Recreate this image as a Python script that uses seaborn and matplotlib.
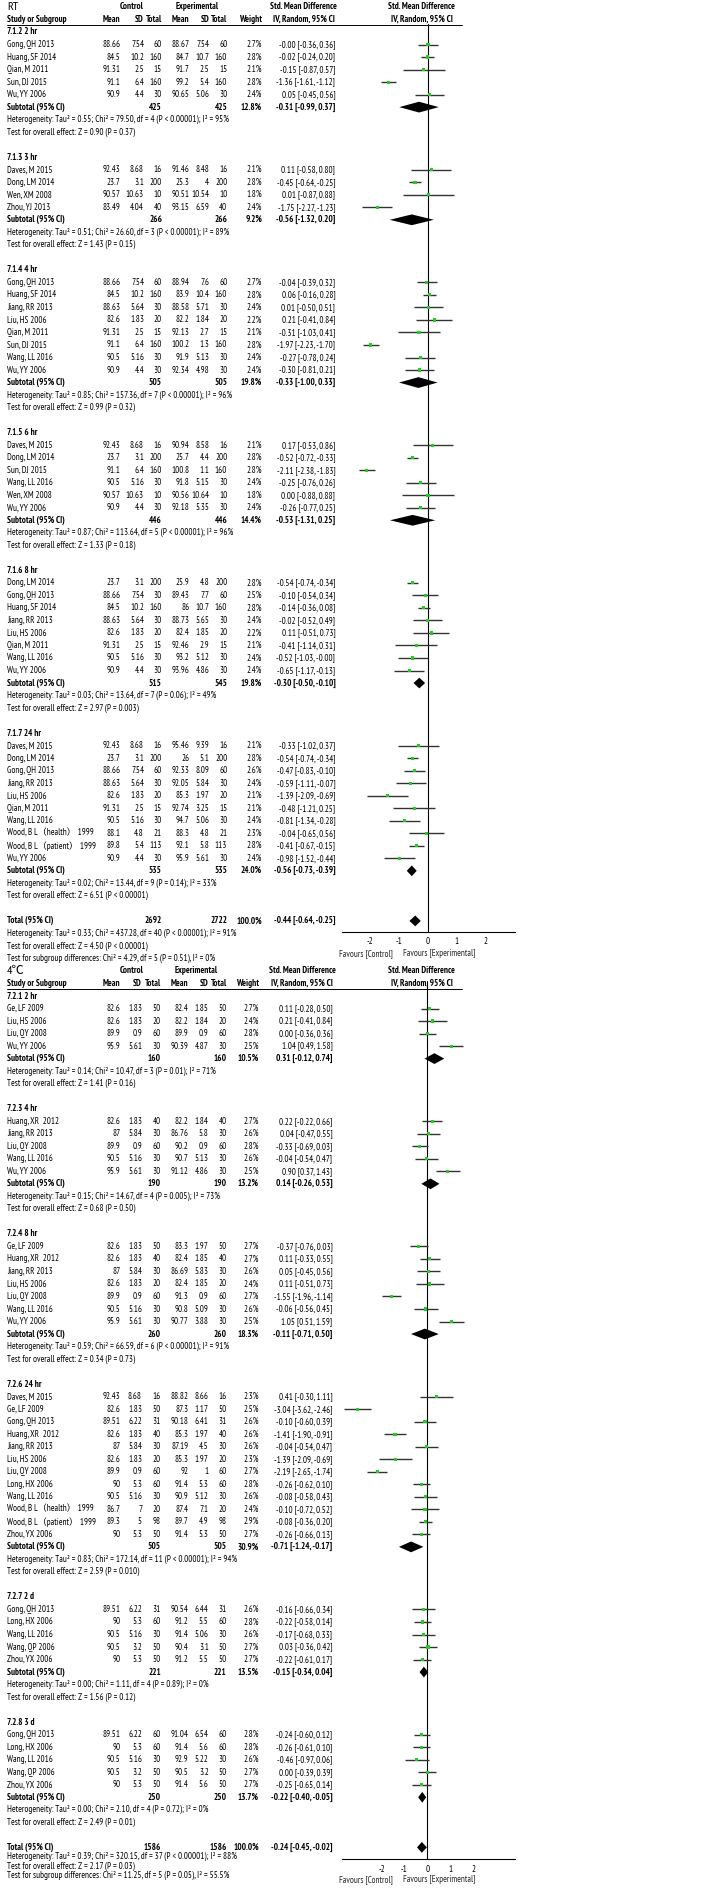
import matplotlib
matplotlib.use("Agg")
import matplotlib.pyplot as plt
import matplotlib.transforms as mtransforms
from matplotlib import font_manager
import seaborn as sns
import pandas as pd

# ---------------- RT section ----------------
rt_groups = ["7.1.2 2 hr", "7.1.3 3 hr", "7.1.4 4 hr", "7.1.5 6 hr", "7.1.6 8 hr", "7.1.7 24 hr"]
rt_sizes = [5, 4, 8, 6, 8, 10]
rt_study = [
    "Gong, QH 2013", "Huang, SF 2014", "Qian, M 2011", "Sun, DJ 2015", "Wu, YY 2006",
    "Daves, M 2015", "Dong, LM 2014", "Wen, XM 2008", "Zhou, YJ 2013",
    "Gong, QH 2013", "Huang, SF 2014", "Jiang, RR 2013", "Liu, HS 2006", "Qian, M 2011", "Sun, DJ 2015", "Wang, LL 2016", "Wu, YY 2006",
    "Daves, M 2015", "Dong, LM 2014", "Sun, DJ 2015", "Wang, LL 2016", "Wen, XM 2008", "Wu, YY 2006",
    "Dong, LM 2014", "Gong, QH 2013", "Huang, SF 2014", "Jiang, RR 2013", "Liu, HS 2006", "Qian, M 2011", "Wang, LL 2016", "Wu, YY 2006",
    "Daves, M 2015", "Dong, LM 2014", "Gong, QH 2013", "Jiang, RR 2013", "Liu, HS 2006", "Qian, M 2011", "Wang, LL 2016",
    "Wood, B L（health） 1999", "Wood, B L（patient） 1999", "Wu, YY 2006",
]
rt_c_mean = [88.66, 84.5, 91.31, 91.1, 90.9,
             92.43, 23.7, 90.57, 83.49,
             88.66, 84.5, 88.63, 82.6, 91.31, 91.1, 90.5, 90.9,
             92.43, 23.7, 91.1, 90.5, 90.57, 90.9,
             23.7, 88.66, 84.5, 88.63, 82.6, 91.31, 90.5, 90.9,
             92.43, 23.7, 88.66, 88.63, 82.6, 91.31, 90.5, 88.1, 89.8, 90.9]
rt_c_sd = [7.54, 10.2, 2.5, 6.4, 4.4,
           8.68, 3.1, 10.63, 4.04,
           7.54, 10.2, 5.64, 1.83, 2.5, 6.4, 5.16, 4.4,
           8.68, 3.1, 6.4, 5.16, 10.63, 4.4,
           3.1, 7.54, 10.2, 5.64, 1.83, 2.5, 5.16, 4.4,
           8.68, 3.1, 7.54, 5.64, 1.83, 2.5, 5.16, 4.8, 5.4, 4.4]
rt_c_n = [60, 160, 15, 160, 30,
          16, 200, 10, 40,
          60, 160, 30, 20, 15, 160, 30, 30,
          16, 200, 160, 30, 10, 30,
          200, 30, 160, 30, 20, 15, 30, 30,
          16, 200, 60, 30, 20, 15, 30, 21, 113, 30]
rt_e_mean = [88.67, 84.7, 91.7, 99.2, 90.65,
             91.46, 25.3, 90.51, 93.15,
             88.94, 83.9, 88.58, 82.2, 92.13, 100.2, 91.9, 92.34,
             90.94, 25.7, 100.8, 91.8, 90.56, 92.18,
             25.9, 89.43, 86, 88.73, 82.4, 92.46, 93.2, 93.96,
             95.46, 26, 92.33, 92.05, 85.3, 92.74, 94.7, 88.3, 92.1, 95.9]
rt_e_sd = [7.54, 10.7, 2.5, 5.4, 5.06,
           8.48, 4, 10.54, 6.59,
           7.6, 10.4, 5.71, 1.84, 2.7, 1.3, 5.13, 4.98,
           8.58, 4.4, 1.1, 5.15, 10.64, 5.35,
           4.8, 7.7, 10.7, 5.65, 1.85, 2.9, 5.12, 4.86,
           9.39, 5.1, 8.09, 5.84, 1.97, 3.25, 5.06, 4.8, 5.8, 5.61]
rt_e_n = [60, 160, 15, 160, 30,
          16, 200, 10, 40,
          60, 160, 30, 20, 15, 160, 30, 30,
          16, 200, 160, 30, 10, 30,
          200, 60, 160, 30, 20, 15, 30, 30,
          16, 200, 60, 30, 20, 15, 30, 21, 113, 30]
rt_weight = [2.7, 2.8, 2.1, 2.8, 2.4,
             2.1, 2.8, 1.8, 2.4,
             2.7, 2.8, 2.4, 2.2, 2.1, 2.8, 2.4, 2.4,
             2.1, 2.8, 2.8, 2.4, 1.8, 2.4,
             2.8, 2.5, 2.8, 2.4, 2.2, 2.1, 2.4, 2.4,
             2.1, 2.8, 2.6, 2.4, 2.1, 2.1, 2.4, 2.3, 2.8, 2.4]
rt_smd = [-0.0, -0.02, -0.15, -1.36, 0.05,
          0.11, -0.45, 0.01, -1.75,
          -0.04, 0.06, 0.01, 0.21, -0.31, -1.97, -0.27, -0.30,
          0.17, -0.52, -2.11, -0.25, 0.00, -0.26,
          -0.54, -0.10, -0.14, -0.02, 0.11, -0.41, -0.52, -0.65,
          -0.33, -0.54, -0.47, -0.59, -1.39, -0.48, -0.81, -0.04, -0.41, -0.98]
rt_lo = [-0.36, -0.24, -0.87, -1.61, -0.45,
         -0.58, -0.64, -0.87, -2.27,
         -0.39, -0.16, -0.50, -0.41, -1.03, -2.23, -0.78, -0.81,
         -0.53, -0.72, -2.38, -0.76, -0.88, -0.77,
         -0.74, -0.54, -0.36, -0.52, -0.51, -1.14, -1.03, -1.17,
         -1.02, -0.74, -0.83, -1.11, -2.09, -1.21, -1.34, -0.65, -0.67, -1.52]
rt_hi = [0.36, 0.20, 0.57, -1.12, 0.56,
         0.80, -0.25, 0.88, -1.23,
         0.32, 0.28, 0.51, 0.84, 0.41, -1.70, 0.24, 0.21,
         0.86, -0.33, -1.83, 0.26, 0.88, 0.25,
         -0.34, 0.34, 0.08, 0.49, 0.73, 0.31, -0.0, -0.13,
         0.37, -0.34, -0.10, -0.07, -0.69, 0.25, -0.28, 0.56, -0.15, -0.44]
rt_sub_c_n = [425, 266, 505, 446, 515, 535]
rt_sub_e_n = [425, 266, 505, 446, 545, 535]
rt_sub_weight = [12.8, 9.2, 19.8, 14.4, 19.8, 24.0]
rt_sub_smd = [-0.31, -0.56, -0.33, -0.53, -0.30, -0.56]
rt_sub_lo = [-0.99, -1.32, -1.00, -1.31, -0.50, -0.73]
rt_sub_hi = [0.37, 0.20, 0.33, 0.25, -0.10, -0.39]
rt_het = [
    "Tau² = 0.55; Chi² = 79.50, df = 4 (P < 0.00001); I² = 95%",
    "Tau² = 0.51; Chi² = 26.60, df = 3 (P < 0.00001); I² = 89%",
    "Tau² = 0.85; Chi² = 157.36, df = 7 (P < 0.00001); I² = 96%",
    "Tau² = 0.87; Chi² = 113.64, df = 5 (P < 0.00001); I² = 96%",
    "Tau² = 0.03; Chi² = 13.64, df = 7 (P = 0.06); I² = 49%",
    "Tau² = 0.02; Chi² = 13.44, df = 9 (P = 0.14); I² = 33%",
]
rt_z = ["Z = 0.90 (P = 0.37)", "Z = 1.43 (P = 0.15)", "Z = 0.99 (P = 0.32)",
        "Z = 1.33 (P = 0.18)", "Z = 2.97 (P = 0.003)", "Z = 6.51 (P < 0.00001)"]
rt_total = [2692, 2722, 100.0, -0.44, -0.64, -0.25]
rt_total_het = "Tau² = 0.33; Chi² = 437.28, df = 40 (P < 0.00001); I² = 91%"
rt_total_z = "Z = 4.50 (P < 0.00001)"
rt_total_diff = "Chi² = 4.29, df = 5 (P = 0.51), I² = 0%"

# ---------------- 4℃ section ----------------
c4_groups = ["7.2.1 2 hr", "7.2.3 4 hr", "7.2.4 8 hr", "7.2.6 24 hr", "7.2.7 2 d", "7.2.8 3 d"]
c4_sizes = [4, 5, 7, 12, 5, 5]
c4_study = [
    "Ge, LF 2009", "Liu, HS 2006", "Liu, QY 2008", "Wu, YY 2006",
    "Huang, XR  2012", "Jiang, RR 2013", "Liu, QY 2008", "Wang, LL 2016", "Wu, YY 2006",
    "Ge, LF 2009", "Huang, XR  2012", "Jiang, RR 2013", "Liu, HS 2006", "Liu, QY 2008", "Wang, LL 2016", "Wu, YY 2006",
    "Daves, M 2015", "Ge, LF 2009", "Gong, QH 2013", "Huang, XR  2012", "Jiang, RR 2013", "Liu, HS 2006",
    "Liu, QY 2008", "Long, HX 2006", "Wang, LL 2016", "Wood, B L（health） 1999", "Wood, B L（patient） 1999", "Zhou, YX 2006",
    "Gong, QH 2013", "Long, HX 2006", "Wang, LL 2016", "Wang, QP 2006", "Zhou, YX 2006",
    "Gong, QH 2013", "Long, HX 2006", "Wang, LL 2016", "Wang, QP 2006", "Zhou, YX 2006",
]
c4_c_mean = [82.6, 82.6, 89.9, 95.9,
             82.6, 87, 89.9, 90.5, 95.9,
             82.6, 82.6, 87, 82.6, 89.9, 90.5, 95.9,
             92.43, 82.6, 89.51, 82.6, 87, 82.6, 89.9, 90, 90.5, 86.7, 89.3, 90,
             89.51, 90, 90.5, 90.5, 90,
             89.51, 90, 90.5, 90.5, 90]
c4_c_sd = [1.83, 1.83, 0.9, 5.61,
           1.83, 5.84, 0.9, 5.16, 5.61,
           1.83, 1.83, 5.84, 1.83, 0.9, 5.16, 5.61,
           8.68, 1.83, 6.22, 1.83, 5.84, 1.83, 0.9, 5.3, 5.16, 7, 5, 5.3,
           6.22, 5.3, 5.16, 3.2, 5.3,
           6.22, 5.3, 5.16, 3.2, 5.3]
c4_c_n = [50, 20, 60, 30,
          40, 30, 60, 30, 30,
          50, 40, 30, 20, 60, 30, 30,
          16, 50, 31, 40, 30, 20, 60, 60, 30, 20, 98, 50,
          31, 60, 30, 50, 50,
          60, 60, 30, 50, 50]
c4_e_mean = [82.4, 82.2, 89.9, 90.39,
             82.2, 86.76, 90.2, 90.7, 91.12,
             83.3, 82.4, 86.69, 82.4, 91.3, 90.8, 90.77,
             88.82, 87.3, 90.18, 85.3, 87.19, 85.3, 92, 91.4, 90.9, 87.4, 89.7, 91.4,
             90.54, 91.2, 91.4, 90.4, 91.2,
             91.04, 91.4, 92.9, 90.5, 91.4]
c4_e_sd = [1.85, 1.84, 0.9, 4.87,
           1.84, 5.8, 0.9, 5.13, 4.86,
           1.97, 1.85, 5.83, 1.85, 0.9, 5.09, 3.88,
           8.66, 1.17, 6.41, 1.97, 4.5, 1.97, 1, 5.3, 5.12, 7.1, 4.9, 5.3,
           6.44, 5.5, 5.06, 3.1, 5.5,
           6.54, 5.6, 5.22, 3.2, 5.6]
c4_e_n = [50, 20, 60, 30,
          40, 30, 60, 30, 30,
          50, 40, 30, 20, 60, 30, 30,
          16, 50, 31, 40, 30, 20, 60, 60, 30, 20, 98, 50,
          31, 60, 30, 50, 50,
          60, 60, 30, 50, 50]
c4_weight = [2.7, 2.4, 2.8, 2.5,
             2.7, 2.6, 2.8, 2.6, 2.5,
             2.7, 2.7, 2.6, 2.4, 2.7, 2.6, 2.5,
             2.3, 2.5, 2.6, 2.6, 2.6, 2.3, 2.7, 2.8, 2.6, 2.4, 2.9, 2.7,
             2.6, 2.8, 2.6, 2.7, 2.7,
             2.8, 2.8, 2.6, 2.7, 2.7]
c4_smd = [0.11, 0.21, 0.00, 1.04,
          0.22, 0.04, -0.33, -0.04, 0.90,
          -0.37, 0.11, 0.05, 0.11, -1.55, -0.06, 1.05,
          0.41, -3.04, -0.10, -1.41, -0.04, -1.39, -2.19, -0.26, -0.08, -0.10, -0.08, -0.26,
          -0.16, -0.22, -0.17, 0.03, -0.22,
          -0.24, -0.26, -0.46, 0.00, -0.25]
c4_lo = [-0.28, -0.41, -0.36, 0.49,
         -0.22, -0.47, -0.69, -0.54, 0.37,
         -0.76, -0.33, -0.45, -0.51, -1.96, -0.56, 0.51,
         -0.30, -3.62, -0.60, -1.90, -0.54, -2.09, -2.65, -0.62, -0.58, -0.72, -0.36, -0.66,
         -0.66, -0.58, -0.68, -0.36, -0.61,
         -0.60, -0.61, -0.97, -0.39, -0.65]
c4_hi = [0.50, 0.84, 0.36, 1.58,
         0.66, 0.55, 0.03, 0.47, 1.43,
         0.03, 0.55, 0.56, 0.73, -1.14, 0.45, 1.59,
         1.11, -2.46, 0.39, -0.91, 0.47, -0.69, -1.74, 0.10, 0.43, 0.52, 0.20, 0.13,
         0.34, 0.14, 0.33, 0.42, 0.17,
         0.12, 0.10, 0.06, 0.39, 0.14]
c4_sub_c_n = [160, 190, 260, 505, 221, 250]
c4_sub_e_n = [160, 190, 260, 505, 221, 250]
c4_sub_weight = [10.5, 13.2, 18.3, 30.9, 13.5, 13.7]
c4_sub_smd = [0.31, 0.14, -0.11, -0.71, -0.15, -0.22]
c4_sub_lo = [-0.12, -0.26, -0.71, -1.24, -0.34, -0.40]
c4_sub_hi = [0.74, 0.53, 0.50, -0.17, 0.04, -0.05]
c4_het = [
    "Tau² = 0.14; Chi² = 10.47, df = 3 (P = 0.01); I² = 71%",
    "Tau² = 0.15; Chi² = 14.67, df = 4 (P = 0.005); I² = 73%",
    "Tau² = 0.59; Chi² = 66.59, df = 6 (P < 0.00001); I² = 91%",
    "Tau² = 0.83; Chi² = 172.14, df = 11 (P < 0.00001); I² = 94%",
    "Tau² = 0.00; Chi² = 1.11, df = 4 (P = 0.89); I² = 0%",
    "Tau² = 0.00; Chi² = 2.10, df = 4 (P = 0.72); I² = 0%",
]
c4_z = ["Z = 1.41 (P = 0.16)", "Z = 0.68 (P = 0.50)", "Z = 0.34 (P = 0.73)",
        "Z = 2.59 (P = 0.010)", "Z = 1.56 (P = 0.12)", "Z = 2.49 (P = 0.01)"]
c4_total = [1586, 1586, 100.0, -0.24, -0.45, -0.02]
c4_total_het = "Tau² = 0.39; Chi² = 320.15, df = 37 (P < 0.00001); I² = 88%"
c4_total_z = "Z = 2.17 (P = 0.03)"
c4_total_diff = "Chi² = 11.25, df = 5 (P = 0.05), I² = 55.5%"

tick_vals = [-2, -1, 0, 1, 2]

# ---------------- layout ----------------
W, H = 707, 1892
ROW = 12.52

sns.set_style("white")


def installed(name):
    try:
        font_manager.findfont(font_manager.FontProperties(family=name), fallback_to_default=False)
        return True
    except ValueError:
        return False


# narrow face like the RevMan export; fall back to plain Liberation Sans
if installed("PT Sans Narrow"):
    base_font, FS = "PT Sans Narrow", 6.45
else:
    base_font, FS = "Liberation Sans", 5.2
plt.rcParams["font.family"] = [base_font, "Noto Sans CJK SC", "DejaVu Sans"]
plt.rcParams["axes.unicode_minus"] = False

fig = plt.figure(figsize=(W / 100, H / 100), dpi=100)


def fx(p):
    return p / W


def ci_text(m, lo, hi):
    return f"{m:.2f} [{lo:.2f}, {hi:.2f}]"


def draw_section(sec):
    row0, top_px, bot_px, cols = sec["row0"], sec["top_px"], sec["bot_px"], sec["cols"]
    ax = fig.add_axes([fx(341.7), 1 - bot_px / H, fx(515 - 341.7), (bot_px - top_px) / H])
    ax.set_facecolor("none")
    tr = mtransforms.blended_transform_factory(fig.transFigure, ax.transData)

    def put(x, r, s, ha="right", bold=False, size=None):
        ax.text(fx(x), r, s, transform=tr, ha=ha, va="center", color="black",
                fontsize=size or FS, fontweight="bold" if bold else "normal")

    def diamond(r, m, lo, hi):
        ax.fill([lo, m, hi, m], [r, r - 0.43, r, r + 0.43], color="black", lw=0, zorder=4)

    # column headings
    put(7, -2, sec["title"], "left", size=FS + 2.4)
    put(cols["ctrl_hdr"], -2, "Control", "center", True)
    put(cols["exp_hdr"], -2, "Experimental", "center", True)
    put(cols["smd_hdr"], -2, "Std. Mean Difference", "center", True)
    put(cols["plot_hdr"], -2, "Std. Mean Difference", "center", True)
    put(7, -1, "Study or Subgroup", "left", True)
    for key, lab in [("c_mean", "Mean"), ("c_sd", "SD"), ("c_n", "Total"), ("e_mean", "Mean"),
                     ("e_sd", "SD"), ("e_n", "Total"), ("weight", "Weight"), ("ci", "IV, Random, 95% CI")]:
        put(cols[key], -1, lab, "right", True)
    put(cols["plot_hdr"], -1, "IV, Random, 95% CI", "center", True)
    ax.plot([fx(7), fx(462)], [-0.52, -0.52], transform=tr, color="black", lw=0.7, clip_on=False)

    study_rows = []
    r, k = 0, 0
    for g, gname in enumerate(sec["groups"]):
        put(7, r, gname, "left", True)
        r += 1
        for i in range(k, k + sec["sizes"][g]):
            put(7, r, sec["study"][i], "left")
            put(cols["c_mean"], r, f"{sec['c_mean'][i]:g}")
            put(cols["c_sd"], r, f"{sec['c_sd'][i]:g}")
            put(cols["c_n"], r, f"{sec['c_n'][i]}")
            put(cols["e_mean"], r, f"{sec['e_mean'][i]:g}")
            put(cols["e_sd"], r, f"{sec['e_sd'][i]:g}")
            put(cols["e_n"], r, f"{sec['e_n'][i]}")
            put(cols["weight"], r, f"{sec['weight'][i]:.1f}%")
            put(cols["ci"], r, ci_text(sec["smd"][i], sec["lo"][i], sec["hi"][i]))
            study_rows.append(r)
            r += 1
        k += sec["sizes"][g]
        put(7, r, "Subtotal (95% CI)", "left", True)
        put(cols["c_n"], r, f"{sec['sub_c_n'][g]}", bold=True)
        put(cols["e_n"], r, f"{sec['sub_e_n'][g]}", bold=True)
        put(cols["weight"], r, f"{sec['sub_weight'][g]:.1f}%", bold=True)
        put(cols["ci"], r, ci_text(sec["sub_smd"][g], sec["sub_lo"][g], sec["sub_hi"][g]), bold=True)
        diamond(r, sec["sub_smd"][g], sec["sub_lo"][g], sec["sub_hi"][g])
        r += 1
        put(7, r, "Heterogeneity: " + sec["het"][g], "left")
        r += 1
        put(7, r, "Test for overall effect: " + sec["z"][g], "left")
        r += 2

    tot = sec["total"]
    put(7, r, "Total (95% CI)", "left", True)
    put(cols["c_n"], r, f"{tot[0]}", bold=True)
    put(cols["e_n"], r, f"{tot[1]}", bold=True)
    put(cols["weight"], r, f"{tot[2]:.1f}%", bold=True)
    put(cols["ci"], r, ci_text(tot[3], tot[4], tot[5]), bold=True)
    diamond(r, tot[3], tot[4], tot[5])
    step = sec["tail"]
    put(7, r + step, "Heterogeneity: " + sec["total_het"], "left")
    put(7, r + 2 * step, "Test for overall effect: " + sec["total_z"], "left")
    put(7, r + 3 * step, "Test for subgroup differences: " + sec["total_diff"], "left")

    # study confidence intervals and point estimates
    ax.hlines(study_rows, sec["lo"], sec["hi"], color="#333333", lw=1.0, zorder=2)
    pts = pd.DataFrame({"smd": sec["smd"], "row": study_rows})
    sns.scatterplot(data=pts, x="smd", y="row", ax=ax, marker="s", s=5, color="#22cc22",
                    edgecolor="none", legend=False, zorder=3)
    ax.axvline(0, color="black", lw=0.8, zorder=1)

    ax.set_xlim(sec["xlim"])
    ax.set_ylim((bot_px - row0) / ROW, (top_px - row0) / ROW)
    ax.set_xlabel("")
    ax.set_ylabel("")
    ax.set_yticks([])
    ax.set_xticks(tick_vals)
    ax.set_xticklabels([str(t) for t in tick_vals])
    ax.tick_params(axis="x", direction="inout", length=7, width=0.8, labelsize=FS, pad=0.5,
                   colors="black")
    for side in ["top", "left", "right"]:
        ax.spines[side].set_visible(False)
    ax.spines["bottom"].set_color("black")
    ax.spines["bottom"].set_linewidth(0.8)

    ax.annotate("Favours [Control]", xy=(0.296, 0), xycoords="axes fraction",
                xytext=(0, -sec["fav_off"]), textcoords="offset points",
                ha="right", va="center", fontsize=FS)
    ax.annotate("Favours [Experimental]", xy=(0.354, 0), xycoords="axes fraction",
                xytext=(0, -sec["fav_off"]), textcoords="offset points",
                ha="left", va="center", fontsize=FS)


top_cols = dict(c_mean=120.7, c_sd=144, c_n=162, e_mean=189.3, e_sd=209.3, e_n=227.3,
                weight=262, ci=335.3, ctrl_hdr=131.7, exp_hdr=196.7, smd_hdr=303, plot_hdr=421.5)
bottom_cols = dict(c_mean=120.7, c_sd=142, c_n=161, e_mean=188.7, e_sd=208.7, e_n=226.7,
                   weight=259, ci=332.5, ctrl_hdr=132, exp_hdr=196, smd_hdr=302, plot_hdr=421.5)

rt_sec = dict(title="RT", groups=rt_groups, sizes=rt_sizes, study=rt_study,
              c_mean=rt_c_mean, c_sd=rt_c_sd, c_n=rt_c_n, e_mean=rt_e_mean, e_sd=rt_e_sd, e_n=rt_e_n,
              weight=rt_weight, smd=rt_smd, lo=rt_lo, hi=rt_hi,
              sub_c_n=rt_sub_c_n, sub_e_n=rt_sub_e_n, sub_weight=rt_sub_weight,
              sub_smd=rt_sub_smd, sub_lo=rt_sub_lo, sub_hi=rt_sub_hi, het=rt_het, z=rt_z,
              total=rt_total, total_het=rt_total_het, total_z=rt_total_z, total_diff=rt_total_diff,
              cols=top_cols, row0=32, top_px=24, bot_px=931.7, xlim=(-2.976, 3.0), tail=1.0, fav_off=16)

c4_sec = dict(title="4℃", groups=c4_groups, sizes=c4_sizes, study=c4_study,
              c_mean=c4_c_mean, c_sd=c4_c_sd, c_n=c4_c_n, e_mean=c4_e_mean, e_sd=c4_e_sd, e_n=c4_e_n,
              weight=c4_weight, smd=c4_smd, lo=c4_lo, hi=c4_hi,
              sub_c_n=c4_sub_c_n, sub_e_n=c4_sub_e_n, sub_weight=c4_sub_weight,
              sub_smd=c4_sub_smd, sub_lo=c4_sub_lo, sub_hi=c4_sub_hi, het=c4_het, z=c4_z,
              total=c4_total, total_het=c4_total_het, total_z=c4_total_z, total_diff=c4_total_diff,
              cols=bottom_cols, row0=996, top_px=981, bot_px=1859, xlim=(-3.74, 3.83), tail=0.76, fav_off=15)

draw_section(rt_sec)
draw_section(c4_sec)

fig.savefig("out.png", dpi=100, facecolor="white")
